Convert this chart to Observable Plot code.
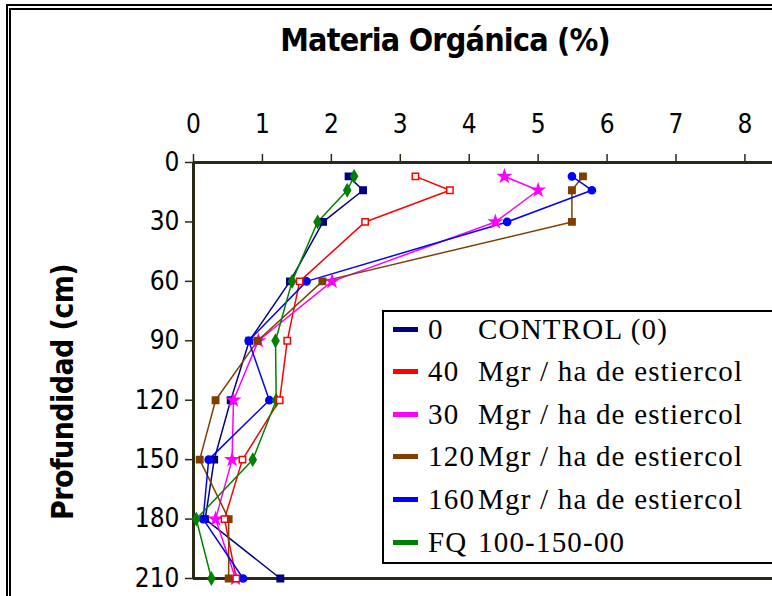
<!DOCTYPE html>
<html>
<head>
<meta charset="utf-8">
<script src="https://cdn.jsdelivr.net/npm/d3@7"></script>
<script src="https://cdn.jsdelivr.net/npm/@observablehq/plot@0.6"></script>
<style>
  body { margin: 0; background: #fff; }
  #wrap { position: relative; width: 772px; height: 596px; overflow: hidden; background: #fff; }
  #border { position: absolute; left: 6px; top: 4px; width: 900px; height: 700px;
            border-top: 6px double #000; border-left: 5px double #000; }
  #chart { position: absolute; left: 0; top: 0; }
  #title { position: absolute; left: 445px; top: 21px; transform: translateX(-50%);
           font-family: "Liberation Sans Narrow", "DejaVu Sans Condensed", "Liberation Sans", sans-serif;
           font-weight: bold; font-size: 32px; letter-spacing: -0.8px; white-space: pre; color: #000; }
  #ylabel { position: absolute; left: 62px; top: 392px; transform: translate(-50%, -50%) rotate(-90deg);
            font-family: "Liberation Sans Narrow", "DejaVu Sans Condensed", "Liberation Sans", sans-serif;
            font-weight: bold; font-size: 30px; letter-spacing: -0.6px; white-space: pre; color: #000; }
  #legend { position: absolute; left: 382px; top: 310px; width: 430px; height: 250px;
            border: 2px solid #000; background: #fff; }
  .row { position: absolute; left: 9px; height: 30px; display: flex; align-items: center;
         font-family: "Liberation Serif", "Times New Roman", serif; font-size: 29px;
         letter-spacing: 1.2px; white-space: pre; color: #000; }
  .sw { width: 25px; height: 5px; margin-right: 10px; }
  .num { display: inline-block; width: 50px; }
  svg text { font-family: "Liberation Sans Narrow", "DejaVu Sans Condensed", "Liberation Sans", sans-serif; }
</style>
</head>
<body>
<div id="wrap">
  <div id="border"></div>
  <div id="chart"></div>
  <div id="title">Materia Orgánica (%)</div>
  <div id="ylabel">Profundidad (cm)</div>
  <div id="legend"></div>
</div>
<script>
// Sampling depths (cm) and organic matter (%) per treatment
const depth = [7, 14, 30, 60, 90, 120, 150, 180, 210];
const seriesKeys = ["0", "40", "30", "120", "160", "FQ"];
const seriesLabels = ["CONTROL (0)", "Mgr / ha de estiercol", "Mgr / ha de estiercol",
                      "Mgr / ha de estiercol", "Mgr / ha de estiercol", "100-150-00"];
const seriesColors = ["#000080", "#ff0000", "#ff00ff", "#7f3f00", "#0000ff", "#008000"];
const seriesSymbols = ["square", "square", "star", "square", "circle", "diamond"];

const control = [2.25, 2.46, 1.88, 1.40, 0.81, 0.54, 0.30, 0.17, 1.26];
const mgr40   = [3.22, 3.72, 2.49, 1.54, 1.36, 1.25, 0.71, 0.45, 0.62];
const mgr30   = [4.51, 5.00, 4.38, 2.01, 0.94, 0.58, 0.56, 0.32, 0.61];
const mgr120  = [5.65, 5.49, 5.49, 1.87, 0.93, 0.32, 0.09, 0.51, 0.51];
const mgr160  = [5.49, 5.78, 4.55, 1.64, 0.80, 1.10, 0.22, 0.14, 0.72];
const fq      = [2.33, 2.23, 1.80, 1.43, 1.19, 1.20, 0.86, 0.04, 0.26];

const xTicks = [0, 1, 2, 3, 4, 5, 6, 7, 8];
const yTicks = [0, 30, 60, 90, 120, 150, 180, 210];

const valuesBySeries = [control, mgr40, mgr30, mgr120, mgr160, fq];
const rows = [];
valuesBySeries.forEach((vals, i) => {
  vals.forEach((v, j) => rows.push({ series: seriesKeys[i], depth: depth[j], mo: v }));
});

const axisColor = "#2a2a14";

const chart = Plot.plot({
  width: 772,
  height: 596,
  marginLeft: 193,
  marginRight: 0,
  marginTop: 162,
  marginBottom: 18,
  style: { background: "transparent", fontSize: "26px", color: "#000", overflow: "visible" },
  x: { domain: [0, 8.4], axis: null },
  y: { domain: [0, 210], reverse: true, axis: null },
  color: { domain: seriesKeys, range: seriesColors },
  symbol: { domain: seriesKeys, range: seriesSymbols },
  marks: [
    Plot.axisX(xTicks, { anchor: "top", tickSize: 9, tickPadding: 21, label: null,
                         fontSize: 26, stroke: axisColor, strokeWidth: 1.5, fill: "#000" }),
    Plot.axisY(yTicks, { anchor: "left", tickSize: 8, tickPadding: 6, label: null,
                         fontSize: 26, stroke: axisColor, strokeWidth: 1.5, fill: "#000" }),
    Plot.ruleY([0, 210], { stroke: axisColor, strokeWidth: 3 }),
    Plot.ruleX([0], { stroke: axisColor, strokeWidth: 3 }),
    Plot.line(rows, { x: "mo", y: "depth", z: "series", stroke: "series", strokeWidth: 1.5 }),
    Plot.dot(rows.filter(d => d.series !== "40"),
             { x: "mo", y: "depth", symbol: "series", fill: "series", stroke: "series", r: 3.6 }),
    Plot.dot(rows.filter(d => d.series === "40"),
             { x: "mo", y: "depth", symbol: "square", fill: "white", stroke: "series", strokeWidth: 1.5, r: 3.6 })
  ]
});
document.getElementById("chart").appendChild(chart);

// Legend entries
const legend = document.getElementById("legend");
seriesKeys.forEach((k, i) => {
  const row = document.createElement("div");
  row.className = "row";
  row.style.top = (2 + i * 42.6) + "px";
  const sw = document.createElement("span");
  sw.className = "sw";
  sw.style.background = seriesColors[i];
  const num = document.createElement("span");
  num.className = "num";
  num.textContent = k;
  const txt = document.createElement("span");
  txt.textContent = seriesLabels[i];
  row.append(sw, num, txt);
  legend.appendChild(row);
});
</script>
</body>
</html>
